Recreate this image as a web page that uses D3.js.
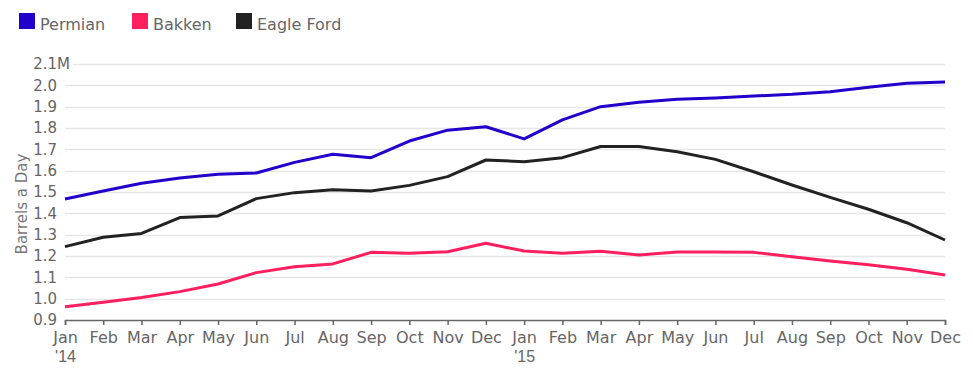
<!DOCTYPE html>
<html>
<head>
<meta charset="utf-8">
<script src="https://cdn.jsdelivr.net/npm/d3@7"></script>
<style>
  body { margin: 0; background: #fff; }
  svg { display: block; font-family: "DejaVu Sans", sans-serif; }
</style>
</head>
<body>
<div id="chart"></div>
<script>
// Monthly production, million barrels a day (Jan 2014 - Dec 2015)
const months = ["Jan","Feb","Mar","Apr","May","Jun","Jul","Aug","Sep","Oct","Nov","Dec",
                "Jan","Feb","Mar","Apr","May","Jun","Jul","Aug","Sep","Oct","Nov","Dec"];
const yearLabels = ["'14","","","","","","","","","","","","'15","","","","","","","","","","",""];
const permian   = [1.467,1.505,1.541,1.566,1.583,1.589,1.639,1.677,1.661,1.739,1.790,1.806,
                   1.749,1.838,1.900,1.921,1.935,1.941,1.950,1.958,1.970,1.991,2.010,2.016];
const bakken    = [0.962,0.983,1.005,1.033,1.069,1.122,1.150,1.163,1.217,1.213,1.220,1.260,
                   1.223,1.213,1.222,1.205,1.219,1.219,1.217,1.197,1.177,1.159,1.138,1.111];
const eagleFord = [1.244,1.288,1.306,1.380,1.388,1.469,1.497,1.511,1.505,1.531,1.572,1.650,
                   1.642,1.661,1.713,1.713,1.689,1.653,1.595,1.533,1.475,1.419,1.356,1.275];
const yTicks = [0.9,1.0,1.1,1.2,1.3,1.4,1.5,1.6,1.7,1.8,1.9,2.0,2.1];

const seriesNames  = ["Permian", "Bakken", "Eagle Ford"];
const seriesValues = [permian, bakken, eagleFord];
const seriesColors = ["#2200cc", "#ff1f5f", "#222222"];

const width = 973, height = 382;
const margin = { top: 64, right: 28, bottom: 62, left: 65 };

const svg = d3.select("#chart").append("svg")
  .attr("width", width)
  .attr("height", height);

const x = d3.scaleLinear()
  .domain([0, months.length - 1])
  .range([margin.left, width - margin.right]);

const y = d3.scaleLinear()
  .domain([0.9, 2.1])
  .range([height - margin.bottom, margin.top]);

// Gridlines
svg.append("g")
  .selectAll("line")
  .data(yTicks.filter(t => t > 0.9))
  .enter()
  .append("line")
  .attr("x1", d => d === 2.1 ? 73 : margin.left)
  .attr("x2", width - margin.right)
  .attr("y1", d => Math.round(y(d)) + 0.5)
  .attr("y2", d => Math.round(y(d)) + 0.5)
  .attr("stroke", "#e6e7ea")
  .attr("stroke-width", 1.5);

// Y tick labels
svg.append("g")
  .selectAll("text")
  .data(yTicks)
  .enter()
  .append("text")
  .attr("x", 57)
  .attr("y", d => y(d))
  .attr("dy", "0.36em")
  .attr("text-anchor", "end")
  .attr("fill", "#666")
  .style("font-size", "15px")
  .text(d => d3.format(".1f")(d));
svg.append("text")
  .attr("x", 57)
  .attr("y", y(2.1))
  .attr("dy", "0.36em")
  .attr("fill", "#666")
  .style("font-size", "15px")
  .text("M");

// Y axis title
svg.append("text")
  .attr("transform", `translate(27,${(y(0.9) + y(2.1)) / 2 + 12}) rotate(-90)`)
  .attr("text-anchor", "middle")
  .attr("fill", "#777")
  .style("font-size", "15px")
  .text("Barrels a Day");

// X axis
const xAxis = d3.axisBottom(x)
  .tickValues(d3.range(months.length))
  .tickSize(5)
  .tickFormat(i => months[i]);
const xAxisG = svg.append("g")
  .attr("transform", `translate(0,${y(0.9)})`)
  .call(xAxis);
xAxisG.select(".domain").attr("stroke", "#666").attr("stroke-width", 1.5);
xAxisG.selectAll(".tick line").attr("stroke", "#666").attr("stroke-width", 1.5);
xAxisG.selectAll(".tick text")
  .attr("fill", "#666")
  .attr("y", 12)
  .style("font-size", "16px")
  .style("font-family", "DejaVu Sans, sans-serif");
xAxisG.selectAll(".tick")
  .append("text")
  .attr("fill", "#666")
  .attr("y", 31)
  .attr("dy", "0.71em")
  .attr("text-anchor", "middle")
  .style("font-size", "16px")
  .text(i => yearLabels[i]);

// Lines
const line = d3.line()
  .x((d, i) => x(i))
  .y(d => y(d));

seriesValues.forEach((vals, k) => {
  svg.append("path")
    .datum(vals)
    .attr("fill", "none")
    .attr("stroke", seriesColors[k])
    .attr("stroke-width", 3)
    .attr("stroke-linejoin", "round")
    .attr("d", line);
});

// Legend
const legendX = [19, 132, 236];
const legend = svg.append("g")
  .selectAll("g")
  .data(seriesNames)
  .enter()
  .append("g")
  .attr("transform", (d, i) => `translate(${legendX[i]},13)`);
legend.append("rect")
  .attr("width", 16)
  .attr("height", 16)
  .attr("fill", (d, i) => seriesColors[i]);
legend.append("text")
  .attr("x", 21)
  .attr("y", 17)
  .attr("fill", "#666")
  .style("font-size", "16px")
  .text(d => d);
</script>
</body>
</html>
